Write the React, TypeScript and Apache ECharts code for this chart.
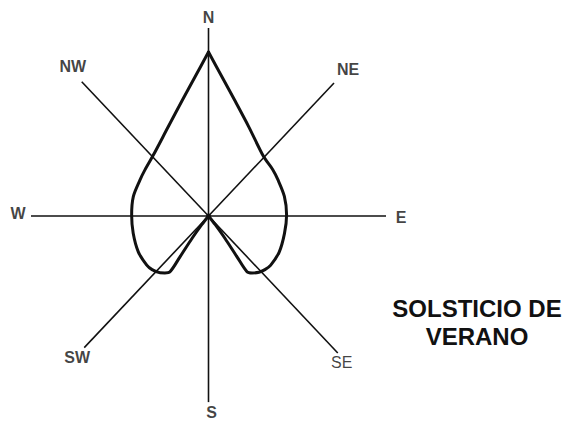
import React, { useEffect, useRef } from "react";
import * as echarts from "echarts";

// Compass directions (math angle, degrees counter-clockwise from East)
const directions = ["E", "NE", "N", "NW", "W", "SW", "S", "SE"];
const directionAngles = [0, 45, 90, 135, 180, 225, 270, 315];
const spokeLengths = [1.0, 1.0, 1.0, 1.01, 1.0, 0.99, 0.99, 1.03];

// Curve (polar): angle in degrees, radius in spoke units.
// Right half: from the centre (south-east cusp) counter-clockwise up to the northern tip.
const rightAngles = [-50, -50.5, -52, -53.5, -53.8, -51, -46.5, -41.9, -36.9, -25.7, -12.2, 0.7, 13.7, 26.3, 34.4, 45.5, 64.3, 76.6, 84.1, 90];
const rightRadii = [0, 0.06, 0.15, 0.27, 0.367, 0.39, 0.413, 0.427, 0.437, 0.442, 0.438, 0.44, 0.44, 0.436, 0.438, 0.443, 0.525, 0.634, 0.743, 0.872];
// Left half: from the northern tip counter-clockwise down to the centre (south-west cusp).
const leftAngles = [90, 95.9, 103.4, 115.7, 133.8, 145.6, 153.7, 166.3, 179.3, 192.2, 205.7, 216.9, 221.9, 227.9, 230.9, 233.8, 233.5, 232, 230.5, 230];
const leftRadii = [0.872, 0.743, 0.634, 0.525, 0.449, 0.434, 0.431, 0.436, 0.433, 0.434, 0.439, 0.435, 0.427, 0.407, 0.39, 0.367, 0.27, 0.15, 0.06, 0];

const titleLines = ["SOLSTICIO DE", "VERANO"];

// layout / style constants
const LABEL_OFFSETS: [number, number][] = [
  [15, 1], [14, -14], [0, -11], [-9, -15], [-13, -3], [-7, 10], [3, 10], [4, 10],
];
const FONT = '"Liberation Sans", Arial, Helvetica, sans-serif';
const INK = "#111";

const rad = (d: number) => (d * Math.PI) / 180;
const toXY = (angles: number[], radii: number[]) =>
  angles.map((a, i) => [radii[i] * Math.cos(rad(a)), radii[i] * Math.sin(rad(a))]);

export default function App() {
  const ref = useRef<HTMLDivElement>(null);
  useEffect(() => {
    if (!ref.current) return;
    const chart = echarts.init(ref.current, null, { renderer: "svg" });

    const ends = directionAngles.map((a, i) => [
      spokeLengths[i] * Math.cos(rad(a)),
      spokeLengths[i] * Math.sin(rad(a)),
    ]);

    const spokeSeries = ends.map((e, i) => ({
      type: "line",
      name: "spoke-" + directions[i],
      data: [[0, 0], e],
      symbol: "none",
      clip: false,
      silent: true,
      lineStyle: { color: INK, width: 1.6 },
    }));

    const curveSeries = [toXY(rightAngles, rightRadii), toXY(leftAngles, leftRadii)].map(
      (d, i) => ({
        type: "line",
        name: "curve-" + i,
        data: d,
        symbol: "none",
        smooth: 0.3,
        clip: false,
        silent: true,
        lineStyle: { color: INK, width: 3, join: "round", cap: "round" },
      })
    );

    chart.setOption({
      animation: false,
      backgroundColor: "#fff",
      grid: { left: 31, top: 28, width: 355, height: 376 },
      xAxis: { type: "value", min: -1, max: 1, show: false },
      yAxis: { type: "value", min: -1, max: 1, show: false },
      series: [
        ...spokeSeries,
        ...curveSeries,
        {
          type: "scatter",
          name: "center",
          data: [[0, 0]],
          symbolSize: 5,
          itemStyle: { color: INK },
          silent: true,
        },
        {
          type: "scatter",
          name: "labels",
          data: ends.map((e, i) => ({
            value: e,
            name: directions[i],
            label:
              directions[i] === "SE"
                ? { offset: LABEL_OFFSETS[i], fontWeight: "normal" }
                : { offset: LABEL_OFFSETS[i] },
          })),
          symbolSize: 0,
          silent: true,
          label: {
            show: true,
            position: "inside",
            formatter: "{b}",
            color: INK,
            fontFamily: FONT,
            fontWeight: "bold",
            fontSize: 16,
          },
        },
      ],
      graphic: [
        {
          type: "text",
          x: 477,
          y: 294,
          style: {
            text: titleLines.join("\n"),
            textAlign: "center",
            textVerticalAlign: "top",
            font: `bold 24px ${FONT}`,
            lineHeight: 28,
            fill: INK,
          },
        },
      ],
    });
    return () => chart.dispose();
  }, []);
  return (
    <div
      ref={ref}
      style={{ position: "fixed", left: 0, top: 0, width: 570, height: 423 }}
    />
  );
}
